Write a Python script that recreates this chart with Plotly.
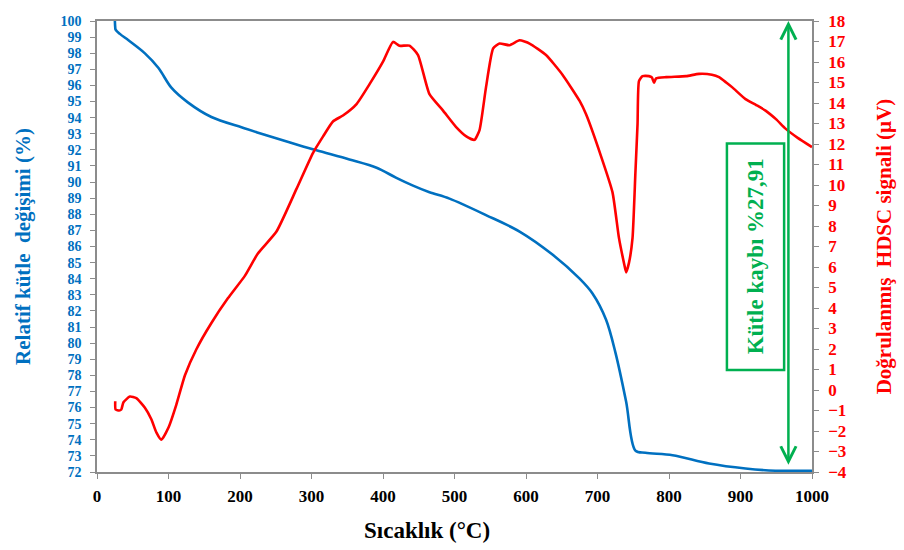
import plotly.graph_objects as go

# ---- data ----
tga_temp = [25, 25.5, 26, 32, 44, 67, 86, 104, 127, 160, 202, 223, 270, 307, 353, 391,
            418, 442, 465, 493, 544, 591, 637, 675, 693, 712, 725, 740, 753, 767, 805,
            856, 907, 949, 1000]
tga_mass = [100, 99.6, 99.47, 99.2, 98.8, 97.99, 97.08, 95.86, 94.95, 94.04, 93.4,
            93.1, 92.45, 91.97, 91.4, 90.89, 90.28, 89.78, 89.37, 88.97, 87.95, 86.93,
            85.5, 84.0, 83.08, 81.45, 79.43, 76.38, 73.33, 73.19, 73.04, 72.53, 72.22,
            72.08, 72.08]

dsc_temp = [25.5, 26, 31, 34, 37, 46, 55, 67, 76, 83, 90, 100, 111, 123, 139, 160, 183,
            207, 225, 251, 279, 302, 316, 330, 344, 363, 381, 400, 414, 423, 437, 449,
            465, 484, 502, 517, 528, 535, 544, 554, 563, 577, 591, 605, 628, 651, 675,
            684, 705, 721, 730, 737, 740, 744, 749, 753, 756, 758, 763, 772, 776, 779,
            782, 796, 824, 842, 860, 870, 880, 889, 907, 922, 935, 950, 963, 980, 1000]
dsc_signal = [-0.55, -0.95, -1.0, -0.95, -0.6, -0.32, -0.4, -0.87, -1.43, -2.07, -2.43,
              -1.83, -0.71, 0.72, 1.99, 3.27, 4.47, 5.58, 6.66, 7.73, 9.81, 11.56, 12.36,
              13.1, 13.39, 13.95, 14.91, 16.02, 16.98, 16.79, 16.8, 16.34, 14.43, 13.63,
              12.84, 12.36, 12.2, 12.68, 14.75, 16.66, 16.9, 16.82, 17.06, 16.9, 16.34,
              15.38, 14.1, 13.45, 11.4, 9.64, 7.42, 6.2, 5.74, 6.2, 7.42, 10.6, 12.97,
              15.07, 15.31, 15.31, 15.25, 14.99, 15.2, 15.26, 15.31, 15.42, 15.38, 15.26,
              15.0, 14.75, 14.19, 13.9, 13.63, 13.2, 12.75, 12.3, 11.85]

x_ticks = list(range(0, 1001, 100))
left_ticks = list(range(72, 101))
right_ticks = list(range(-4, 19))

x_title = "Sıcaklık (°C)"
left_title = "Relatif kütle\u00a0 değişimi (%)"
right_title = "Doğrulanmış\u00a0 HDSC signali (µV)"
loss_label = "Kütle kaybı %27,91"
arrow_temp = 967
arrow_top, arrow_bottom = 100, 72.35
box_x = (881, 961)
box_y = (78.33, 92.39)

BLUE = "#0070C0"
RED = "#FF0000"
GREEN = "#00B050"
AXIS = "#8c8c8c"
FONT = "Liberation Serif"

fig = go.Figure()
fig.add_trace(go.Scatter(x=tga_temp, y=tga_mass, mode="lines",
                         line=dict(color=BLUE, width=2.6, shape="spline", smoothing=0.9),
                         yaxis="y", showlegend=False, hoverinfo="skip"))
fig.add_trace(go.Scatter(x=dsc_temp, y=dsc_signal, mode="lines",
                         line=dict(color=RED, width=2.6, shape="spline", smoothing=0.5),
                         yaxis="y2", showlegend=False, hoverinfo="skip"))

fig.update_layout(
    width=904, height=550,
    margin=dict(l=97, r=91, t=12, b=78),
    paper_bgcolor="white", plot_bgcolor="white",
    font=dict(family=FONT),
    xaxis=dict(range=[0, 1000], tickvals=x_ticks, ticks="outside", ticklen=5,
               tickcolor=AXIS, showline=True, linecolor=AXIS, linewidth=1.5,
               mirror=True, showgrid=False, zeroline=False, ticklabelstandoff=3,
               tickfont=dict(family=FONT, size=17, color="black", weight="bold")),
    yaxis=dict(range=[72, 100], tickvals=left_ticks, ticks="outside", ticklen=5,
               tickcolor=AXIS, showline=True, linecolor=AXIS, linewidth=1.5,
               showgrid=False, zeroline=False, ticklabelstandoff=6,
               tickfont=dict(family=FONT, size=14, color=BLUE, weight="bold"),
               title=dict(text=left_title, standoff=24,
                          font=dict(family=FONT, size=21, color=BLUE, weight="bold"))),
    yaxis2=dict(range=[-4, 18], tickvals=right_ticks, ticks="outside", ticklen=5,
                tickcolor=AXIS, showline=True, linecolor=AXIS, linewidth=1.5,
                overlaying="y", side="right", showgrid=False, zeroline=False,
                ticklabelstandoff=6,
                tickfont=dict(family=FONT, size=17, color=RED, weight="bold"),
                title=dict(text=right_title, standoff=30,
                           font=dict(family=FONT, size=21, color=RED, weight="bold"))),
)

fig.add_annotation(x=0.461, y=-0.13, xref="paper", yref="paper", yanchor="middle",
                   text=x_title, showarrow=False,
                   font=dict(family=FONT, size=23, color="black", weight="bold"))
fig.add_shape(type="rect", xref="x", yref="y", x0=box_x[0], x1=box_x[1],
              y0=box_y[0], y1=box_y[1], line=dict(color=GREEN, width=2.5))
fig.add_annotation(x=sum(box_x) / 2, y=sum(box_y) / 2, xref="x", yref="y",
                   text=loss_label, showarrow=False, textangle=-90,
                   font=dict(family=FONT, size=23, color=GREEN, weight="bold"))
fig.add_annotation(x=arrow_temp, y=arrow_top, ax=arrow_temp, ay=arrow_bottom,
                   xref="x", yref="y", axref="x", ayref="y", text="",
                   showarrow=True, arrowhead=5, startarrowhead=5, arrowside="end+start",
                   arrowsize=1.2, startarrowsize=1.2, arrowwidth=2.5, arrowcolor=GREEN,
                   standoff=0, startstandoff=0)

fig.write_html("out.html")
